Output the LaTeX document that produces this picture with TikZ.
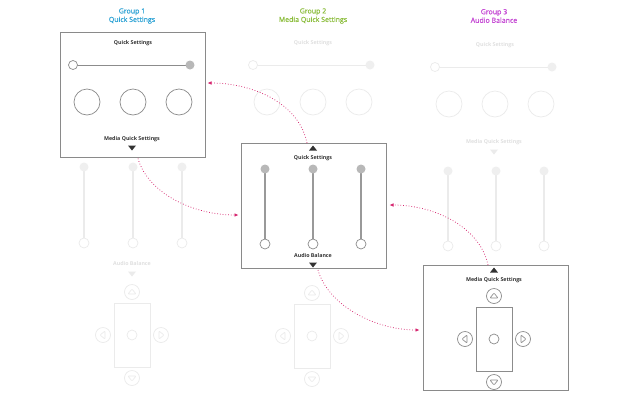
\documentclass[tikz,border=0pt]{standalone}
\usepackage{fontspec}
\setmainfont{Open Sans}
\newfontfamily\hdrfont{Open Sans}[FakeBold=0.7]
\usetikzlibrary{arrows.meta,calc}
\definecolor{hdrA}{HTML}{2EA3D5}
\definecolor{hdrB}{HTML}{8DBE3E}
\definecolor{hdrC}{HTML}{C548D4}
\definecolor{pinkarr}{HTML}{D6246E}
\definecolor{boxln}{HTML}{8A8A8A}
\definecolor{elS}{HTML}{8C8C8C}
\definecolor{barS}{HTML}{999999}
\definecolor{knS}{HTML}{B8B8B8}
\definecolor{txS}{HTML}{333333}
\definecolor{elF}{HTML}{EBEBEB}
\definecolor{knF}{HTML}{EFEFEF}
\definecolor{txF}{HTML}{E0E0E0}
\tikzset{
  panel/.style={draw=boxln,line width=1pt,fill=white,minimum width=145pt,minimum height=125pt,inner sep=0pt},
  hdr/.style={font=\hdrfont\fontsize{7}{8.5}\selectfont,align=center,inner sep=0pt},
  lblS/.style={font=\fontsize{5.3}{6}\selectfont\bfseries,text=txS,inner sep=0pt},
  lblF/.style={font=\fontsize{5.3}{6}\selectfont\bfseries,text=txF,inner sep=0pt},
  lnS/.style={draw=elS,line width=0.7pt},
  lnF/.style={draw=elF,line width=0.7pt},
  barS/.style={draw=barS,line width=1.3pt},
  barF/.style={draw=elF,line width=1.3pt},
  knobS/.style={fill=knS},
  knobF/.style={fill=knF},
  triS/.style={fill=txS},
  triF/.style={fill=elF},
  link/.style={draw=pinkarr,line width=0.75pt,dotted,-{Latex[length=4pt,width=3.6pt]}}
}
% Quick settings panel: #1 cx, #2 title y, #3 S/F
\newcommand{\QSpanel}[3]{%
  \node[lbl#3] at (#1,#2) {Quick Settings};
  \draw[ln#3] (#1-60,#2+22) -- (#1+57,#2+22);
  \draw[ln#3,fill=white] (#1-60,#2+22) circle (4.5);
  \fill[knob#3] (#1+57,#2+22) circle (4.5);
  \foreach \dx in {-46,0,46} {\draw[ln#3] (#1+\dx,#2+59) circle (13);}
}
% sliders: #1 cx, #2 top, #3 bottom, #4 spacing, #5 S/F
\newcommand{\SLpanel}[5]{%
  \foreach \dx in {-#4,0,#4} {%
    \draw[bar#5] (#1+\dx,#2) -- (#1+\dx,#3);
    \fill[knob#5] (#1+\dx,#2) circle (4.5);
    \draw[ln#5,fill=white] (#1+\dx,#3) circle (5);
  }
}
% down triangle / up triangle
\newcommand{\DTri}[3]{\fill[tri#3] (#1-4,#2-2.5) -- (#1+4,#2-2.5) -- (#1,#2+2.5) -- cycle;}
\newcommand{\UTri}[3]{\fill[tri#3] (#1-4,#2+2.5) -- (#1+4,#2+2.5) -- (#1,#2-2.5) -- cycle;}
% d-pad: #1 cx, #2 yc, #3 S/F
\newcommand{\DPad}[3]{%
  \draw[ln#3] (#1-18,#2-32) rectangle (#1+18,#2+32);
  \draw[ln#3] (#1,#2) circle (5);
  \draw[ln#3] (#1,#2-43) circle (7.5);
  \draw[ln#3,rounded corners=0.8pt] (#1-4,#2-41) -- (#1,#2-46) -- (#1+4,#2-41) -- cycle;
  \draw[ln#3] (#1,#2+43) circle (7.5);
  \draw[ln#3,rounded corners=0.8pt] (#1-4,#2+41) -- (#1,#2+46) -- (#1+4,#2+41) -- cycle;
  \draw[ln#3] (#1-29,#2) circle (7.5);
  \draw[ln#3,rounded corners=0.8pt] (#1-27,#2-4) -- (#1-32,#2) -- (#1-27,#2+4) -- cycle;
  \draw[ln#3] (#1+29,#2) circle (7.5);
  \draw[ln#3,rounded corners=0.8pt] (#1+27,#2-4) -- (#1+32,#2) -- (#1+27,#2+4) -- cycle;
}
\begin{document}
\begin{tikzpicture}[x=1pt,y=-1pt]
\useasboundingbox[fill=white] (0,0) rectangle (630,400);
% headers
\node[hdr,text=hdrA] (h1) at (132,16) {Group 1\\Quick Settings};
\node[hdr,text=hdrB] (h2) at (313,16) {Group 2\\Media Quick Settings};
\node[hdr,text=hdrC] (h3) at (494,16) {Group 3\\Audio Balance};
% panels
\node[panel] (box1) at (132.5,94.5) {};
\node[panel] (box2) at (313.5,206) {};
\node[panel] (box3) at (495.5,328) {};
% column 1
\QSpanel{133}{43}{S}
\node[lblS] (b1lbl) at (132,139) {Media Quick Settings};
\DTri{132}{148}{S}
\SLpanel{133}{167}{243}{49}{F}
\node[lblF] at (132,264) {Audio Balance};
\DTri{132}{274}{F}
\DPad{132}{335}{F}
% column 2
\QSpanel{313}{43}{F}
\UTri{313}{148}{S}
\node[lblS] at (313,158) {Quick Settings};
\SLpanel{313}{169}{244}{48}{S}
\node[lblS] at (313,256) {Audio Balance};
\DTri{313}{265}{S}
\DPad{312}{336}{F}
% column 3
\QSpanel{495}{45}{F}
\node[lblF] at (494,142) {Media Quick Settings};
\DTri{494}{152}{F}
\SLpanel{496}{171}{246}{48}{F}
\UTri{494}{270}{S}
\node[lblS] at (494,280) {Media Quick Settings};
\DPad{494}{339}{S}
% connectors
\coordinate (a1s) at ($(box2.north)+(-6.5,0)$);
\coordinate (a1e) at ($(box1.east)+(2,-11.5)$);
\coordinate (a2s) at ($(box1.south)+(5.5,1)$);
\coordinate (a2e) at ($(box2.west)+(-2,9)$);
\coordinate (a3s) at ($(box3.north)+(-7.5,0)$);
\coordinate (a3e) at ($(box2.east)+(3,-1)$);
\coordinate (a4s) at ($(box2.south)+(4.5,1)$);
\coordinate (a4e) at ($(box3.west)+(-3,2)$);
\draw[link] (a1s) .. controls ($(a1s)+(-8,-40)$) and ($(a1e)+(45,0)$) .. (a1e);
\draw[link] (a2s) .. controls ($(a2s)+(10,35)$) and ($(a2e)+(-45,0)$) .. (a2e);
\draw[link] (a3s) .. controls ($(a3s)+(-8,-38)$) and ($(a3e)+(45,0)$) .. (a3e);
\draw[link] (a4s) .. controls ($(a4s)+(10,35)$) and ($(a4e)+(-45,0)$) .. (a4e);
\end{tikzpicture}
\end{document}
